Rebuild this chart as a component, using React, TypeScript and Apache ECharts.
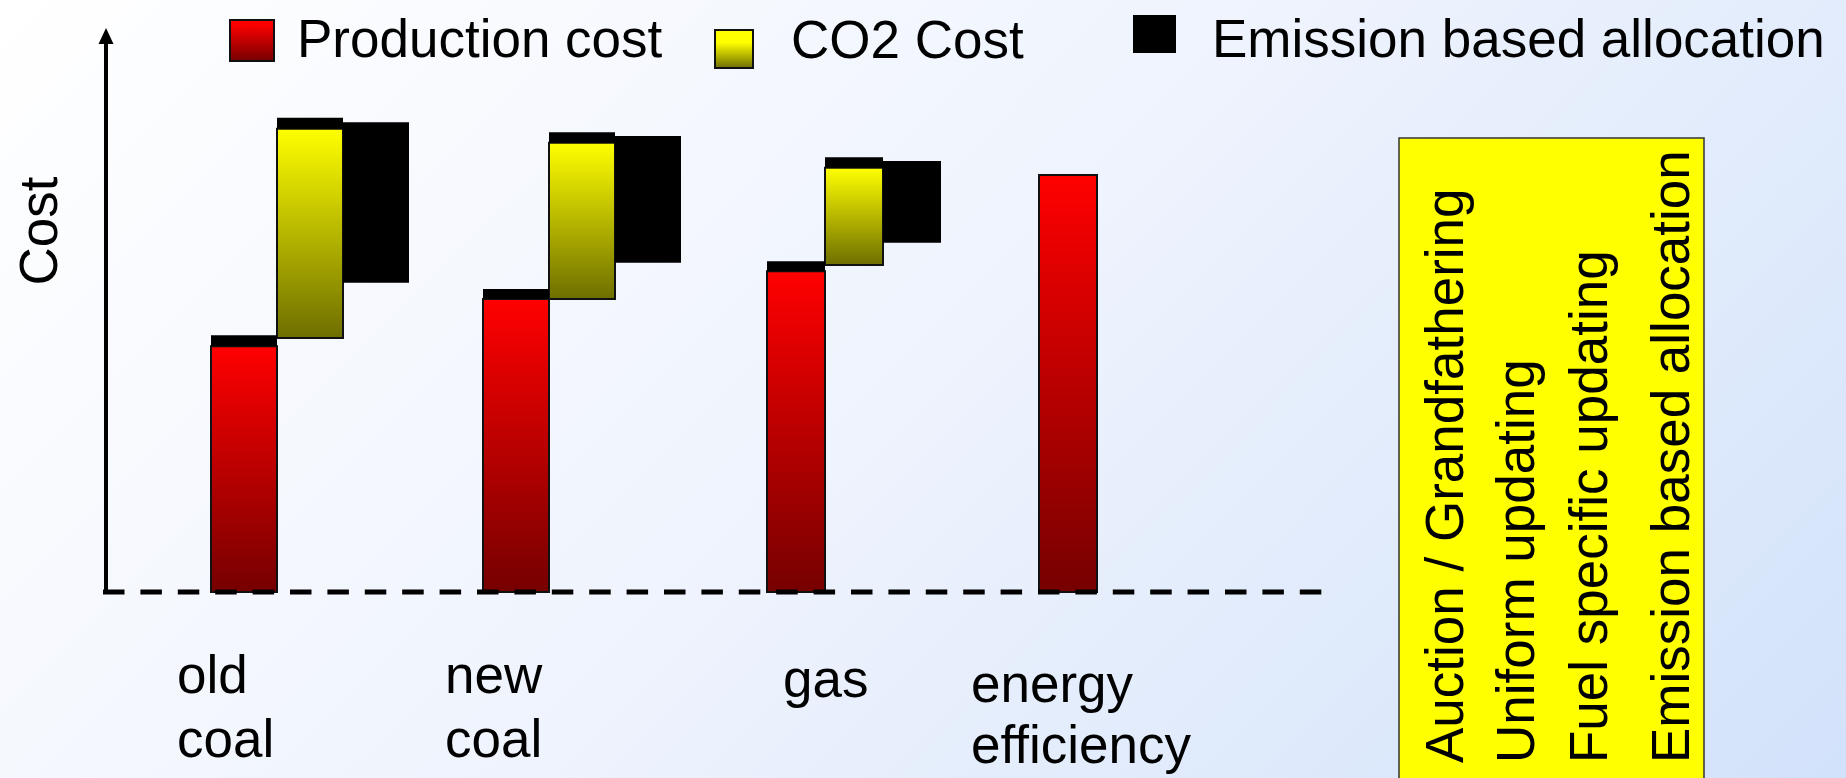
import React, { useEffect, useRef } from 'react';
import * as echarts from 'echarts';

// ---------- data ----------
const categories = ['old coal', 'new coal', 'gas', 'energy efficiency'];
const categoryLabels = ['old\ncoal', 'new\ncoal', 'gas', 'energy\nefficiency'];
const productionCost = [44.2, 52.7, 57.7, 75.0];
const productionCapTop = [46.2, 54.5, 59.5, null];
const co2Low = [45.7, 52.7, 58.8, null];
const co2High = [83.3, 80.8, 76.3, null];
const co2CapTop = [85.3, 82.7, 78.2, null];
const emissionLow = [55.6, 59.2, 62.8, null];
const emissionHigh = [84.5, 82.0, 77.5, null];
const allocationRules = [
  'Auction / Grandfathering',
  'Uniform updating',
  'Fuel specific updating',
  'Emission based allocation',
];
const yAxisName = 'Cost';
const legendNames = ['Production cost', 'CO2 Cost', 'Emission based allocation'];

// ---------- layout / style ----------
const FONT = '"Liberation Sans", Arial, Helvetica, sans-serif';
const FS = 53;
const BAR_W = [66, 66, 58, 58];
const LABEL_POS = [
  [177, 642, 64],
  [445, 642, 64],
  [783, 646, 64],
  [971, 653, 61],
];
const RULE_X = [1444, 1515, 1588, 1670];

const grad = (c0: string, c1: string, start = 0) =>
  new echarts.graphic.LinearGradient(0, 0, 0, 1, [
    { offset: start, color: c0 },
    { offset: 1, color: c1 },
  ]);
const redGrad = () => grad('#ff0000', '#760000');
const yellowGrad = () => grad('#ffff00', '#6e6e00');

function rangeData(lo: (number | null)[], hi: (number | null)[]) {
  const out: number[][] = [];
  hi.forEach((h, i) => {
    const l = lo[i];
    if (h != null && l != null) out.push([i, l, h]);
  });
  return out;
}

function makeRender(col: number, fill: any, stroke: string | null, lw: number) {
  return (params: any, api: any) => {
    const cat = api.value(0);
    const lo = api.value(1);
    const hi = api.value(2);
    const b = api.coord([cat, lo]);
    const t = api.coord([cat, hi]);
    const w = BAR_W[cat];
    const x = b[0] - 1.5 * w + col * w;
    return {
      type: 'rect',
      shape: { x, y: t[1], width: w, height: b[1] - t[1] },
      style: {
        fill: typeof fill === 'function' ? fill() : fill,
        stroke: stroke || undefined,
        lineWidth: stroke ? lw : 0,
      },
    };
  };
}

const legendText = (padLeft: number) => ({
  fontSize: FS,
  color: '#000',
  fontFamily: FONT,
  padding: [0, 0, 0, padLeft],
});

export default function App() {
  const ref = useRef<HTMLDivElement>(null);
  useEffect(() => {
    if (!ref.current) return;
    const chart = echarts.init(ref.current, null, { renderer: 'svg' });
    const zeros = productionCost.map(() => 0);
    const option: any = {
      animation: false,
      backgroundColor: 'transparent',
      textStyle: { fontFamily: FONT },
      grid: { left: 174, top: 36, width: 1088, bottom: 186 },
      xAxis: {
        type: 'category',
        data: categories,
        axisLine: { show: false },
        axisTick: { show: false },
        axisLabel: { show: false },
        splitLine: { show: false },
      },
      yAxis: {
        type: 'value',
        min: 0,
        max: 100,
        offset: 68,
        axisLine: {
          show: true,
          symbol: ['none', 'triangle'],
          symbolSize: [15, 16],
          lineStyle: { color: '#000', width: 4 },
        },
        axisTick: { show: false },
        axisLabel: { show: false },
        splitLine: { show: false },
      },
      legend: [
        {
          data: [legendNames[0]],
          left: 229,
          top: 12,
          padding: 0,
          icon: 'path://M0,0M0,4h44v41h-44Z',
          itemWidth: 44,
          itemHeight: 45,
          selectedMode: false,
          itemStyle: { color: grad('#ff0000', '#760000', 0.09), borderColor: '#111', borderWidth: 2 },
          textStyle: legendText(18),
        },
        {
          data: [legendNames[1]],
          left: 714,
          top: 10,
          padding: 0,
          icon: 'path://M0,0M0,19h38v38h-38Z',
          itemWidth: 38,
          itemHeight: 57,
          selectedMode: false,
          itemStyle: { color: grad('#ffff00', '#6e6e00', 0.33), borderColor: '#111', borderWidth: 2 },
          textStyle: legendText(33),
        },
        {
          data: [legendNames[2]],
          left: 1133,
          top: 12,
          padding: 0,
          icon: 'path://M0,0h43v38h-43ZM0,47',
          itemWidth: 43,
          itemHeight: 47,
          selectedMode: false,
          itemStyle: { color: '#000', borderWidth: 0 },
          textStyle: legendText(31),
        },
      ],
      series: [
        {
          type: 'custom',
          name: legendNames[0],
          renderItem: makeRender(0, redGrad, '#111', 2),
          itemStyle: { color: redGrad(), borderColor: '#111', borderWidth: 2 },
          encode: { x: 0, y: [1, 2] },
          data: rangeData(zeros, productionCost),
          z: 2,
        },
        {
          type: 'custom',
          name: 'production cap',
          renderItem: makeRender(0, '#000', null, 0),
          itemStyle: { color: '#000' },
          encode: { x: 0, y: [1, 2] },
          data: rangeData(productionCost, productionCapTop),
          z: 3,
        },
        {
          type: 'custom',
          name: legendNames[1],
          renderItem: makeRender(1, yellowGrad, '#111', 2),
          itemStyle: { color: yellowGrad(), borderColor: '#111', borderWidth: 2 },
          encode: { x: 0, y: [1, 2] },
          data: rangeData(co2Low, co2High),
          z: 2,
        },
        {
          type: 'custom',
          name: 'co2 cap',
          renderItem: makeRender(1, '#000', null, 0),
          itemStyle: { color: '#000' },
          encode: { x: 0, y: [1, 2] },
          data: rangeData(co2High, co2CapTop),
          z: 3,
        },
        {
          type: 'custom',
          name: legendNames[2],
          renderItem: makeRender(2, '#000', null, 0),
          itemStyle: { color: '#000' },
          encode: { x: 0, y: [1, 2] },
          data: rangeData(emissionLow, emissionHigh),
          z: 2,
        },
      ],
      graphic: [
        {
          type: 'line',
          z: 10,
          shape: { x1: 103, y1: 592, x2: 1323, y2: 592 },
          style: { stroke: '#000', lineWidth: 5, lineDash: [21.5, 15.9] },
        },
        {
          type: 'text',
          x: 38,
          y: 231,
          rotation: Math.PI / 2,
          style: {
            text: yAxisName,
            font: `${FS}px ${FONT}`,
            fill: '#000',
            textAlign: 'center',
            textVerticalAlign: 'middle',
          },
        },
        ...categoryLabels.map((t, i) => ({
          type: 'text',
          x: LABEL_POS[i][0],
          y: LABEL_POS[i][1],
          style: {
            text: t,
            font: `${FS}px ${FONT}`,
            fill: '#000',
            lineHeight: LABEL_POS[i][2],
            textAlign: 'left',
            textVerticalAlign: 'top',
          },
        })),
        {
          type: 'rect',
          shape: { x: 1399, y: 138, width: 305, height: 700 },
          style: { fill: '#ffff00', stroke: '#333', lineWidth: 1.5 },
        },
        ...allocationRules.map((t, i) => ({
          type: 'text',
          x: RULE_X[i],
          y: 763,
          rotation: Math.PI / 2,
          style: {
            text: t,
            font: `${FS}px ${FONT}`,
            fill: '#000',
            textAlign: 'left',
            textVerticalAlign: 'middle',
          },
        })),
      ],
    };
    chart.setOption(option);
    return () => chart.dispose();
  }, []);
  return (
    <div
      ref={ref}
      style={{
        position: 'absolute',
        left: 0,
        top: 0,
        width: 1846,
        height: 778,
        background: 'linear-gradient(135deg, #ffffff 0%, #eef3fd 50%, #d2e2fa 100%)',
      }}
    />
  );
}
